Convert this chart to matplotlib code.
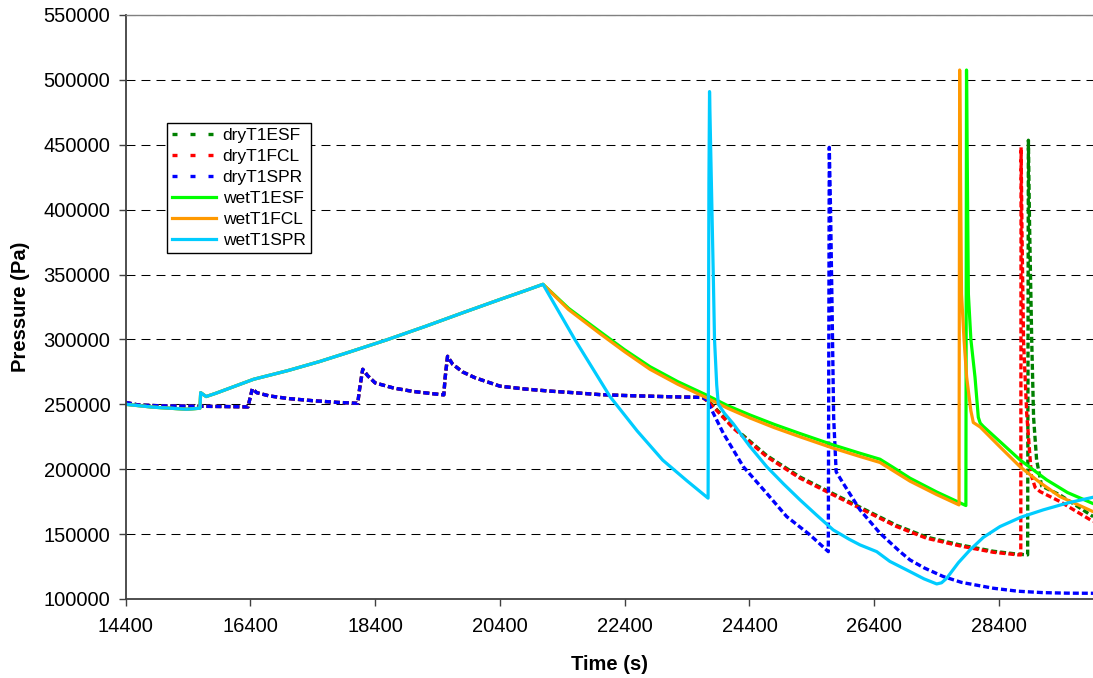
import matplotlib
matplotlib.use("Agg")
import matplotlib.pyplot as plt
from matplotlib.lines import Line2D

plt.rcParams['font.family'] = ['Liberation Sans', 'DejaVu Sans']

# ---------------- data ----------------
# shared early part of all dry series (dryT1SPR path until 23650 s)
t_dry_common = [14400, 14600, 15000, 15600, 16000, 16360, 16400, 16430, 16500, 16700,
                17000, 17400, 17800, 18120, 18150, 18200, 18280, 18400, 18700, 19000,
                19300, 19500, 19520, 19560, 19640, 19800, 20000, 20400, 20800, 21200,
                21600, 22000, 22400, 23000, 23650]
p_dry_common = [251500, 249500, 248800, 248500, 248300, 248000, 256000, 262000, 259000, 256500,
                254500, 252800, 251500, 250800, 262000, 277000, 272000, 266500, 262500, 260000,
                258300, 257300, 270000, 287000, 281000, 275000, 270500, 264000, 261800, 260200,
                258900, 257500, 256800, 256000, 255300]

# dryT1SPR tail
t_dry_spr = [23714, 23981, 24301, 24676, 24997, 25370, 25664, 25680, 25700, 25725,
             25750, 25790, 25905, 26172, 26493, 26813, 26974, 27200, 27508, 27800,
             28309, 28700, 29111, 29500, 29910]
p_dry_spr = [253400, 227700, 202000, 181500, 163500, 149400, 136500, 448000, 400000, 323000,
             240000, 198000, 189000, 168700, 150700, 136500, 130100, 124000, 117300, 112800,
             108300, 106000, 104900, 104500, 104400]

# dryT1FCL tail
t_dry_fcl = [23767, 24141, 24676, 25210, 25744, 26280, 26760, 27241, 27775, 28309,
             28710, 28750, 28755, 28770, 28794, 28845, 28920, 28980, 29058, 29378, 29910]
p_dry_fcl = [250800, 231600, 209700, 193100, 180200, 167300, 155800, 146800, 140900, 136000,
             134000, 134000, 448000, 380000, 299000, 243000, 195000, 186000, 182800, 175100, 159700]

# dryT1ESF tail
t_dry_esf = [23767, 24141, 24676, 25210, 25744, 26280, 26760, 27241, 27775, 28309,
             28710, 28860, 28872, 28890, 28925, 28955, 29004, 29085, 29378, 29910]
p_dry_esf = [251500, 232500, 210600, 194000, 181100, 168200, 156700, 147700, 141700, 136800,
             134500, 134000, 453500, 390000, 300000, 240000, 207000, 187000, 180200, 163500]

# shared early part of all wet series (until the peak at 21090 s)
t_wet_common = [14400, 14840, 15380, 15590, 15602, 15690, 15850, 16450, 17000, 17510,
                18000, 18580, 19200, 19800, 20400, 20800, 21090]
p_wet_common = [250000, 247800, 246200, 247000, 259000, 256000, 258600, 269300, 276000, 283000,
                290500, 299600, 310000, 320500, 330800, 337500, 342500]

# wetT1SPR tail
t_wet_spr = [21600, 22164, 22600, 23010, 23400, 23737, 23750, 23760, 23790, 23820,
             23840, 23875, 23901, 24000, 24141, 24400, 24676, 24950, 25210, 25480,
             25744, 26000, 26172, 26440, 26650, 26974, 27200, 27402, 27480, 27562,
             27750, 27936, 28150, 28416, 28750, 29111, 29500, 29910]
p_wet_spr = [300000, 256000, 229500, 207000, 191000, 177700, 420000, 491000, 420000, 350000,
             300000, 265000, 250000, 243000, 235000, 218000, 202000, 188500, 176400, 164500,
             153200, 146000, 141700, 136500, 129000, 121100, 115500, 111600, 112500, 116000,
             128000, 137800, 147500, 155800, 163000, 168700, 174000, 178400]

# wetT1ESF tail
t_wet_esf = [21500, 22004, 22400, 22806, 23250, 23714, 24050, 24408, 24800, 25210,
             25744, 26172, 26493, 26700, 26974, 27400, 27870, 27880, 27895, 27910,
             27950, 28016, 28069, 28100, 28149, 28400, 28737, 29165, 29500, 29910]
p_wet_esf = [324000, 306000, 292000, 279000, 267500, 257100, 249000, 241800, 234500, 227500,
             218700, 212300, 207700, 201500, 193100, 182500, 172000, 507600, 420000, 335000,
             300000, 271000, 240000, 235500, 233000, 222000, 207200, 191800, 182000, 173500]

# wetT1FCL tail
t_wet_fcl = [21500, 22004, 22400, 22806, 23250, 23714, 24050, 24408, 24800, 25210,
             25744, 26172, 26493, 26700, 26974, 27400, 27760, 27770, 27785, 27800,
             27840, 27882, 27950, 27989, 28100, 28400, 28737, 29050, 29378, 29910]
p_wet_fcl = [323000, 304500, 290500, 277000, 265500, 255000, 247000, 239500, 232000, 225000,
             216200, 209800, 205200, 199000, 190800, 180500, 172500, 507600, 420000, 335000,
             300000, 271000, 245000, 236000, 232500, 218000, 202000, 190000, 178900, 167300]

series_names = ['dryT1ESF', 'dryT1FCL', 'dryT1SPR', 'wetT1ESF', 'wetT1FCL', 'wetT1SPR']
series_colors = ['#008000', '#FF0000', '#0000FF', '#00FF00', '#FF9900', '#00CCFF']

x_ticks = [14400, 16400, 18400, 20400, 22400, 24400, 26400, 28400]
y_ticks = [100000, 150000, 200000, 250000, 300000, 350000, 400000, 450000, 500000, 550000]

# ---------------- build series ----------------
series = {
    'dryT1ESF': (t_dry_common + t_dry_esf, p_dry_common + p_dry_esf),
    'dryT1FCL': (t_dry_common + t_dry_fcl, p_dry_common + p_dry_fcl),
    'dryT1SPR': (t_dry_common + t_dry_spr, p_dry_common + p_dry_spr),
    'wetT1ESF': (t_wet_common + t_wet_esf, p_wet_common + p_wet_esf),
    'wetT1FCL': (t_wet_common + t_wet_fcl, p_wet_common + p_wet_fcl),
    'wetT1SPR': (t_wet_common + t_wet_spr, p_wet_common + p_wet_spr),
}

W, H = 1093, 678
fig = plt.figure(figsize=(W / 100, H / 100), dpi=100)
ax_left, ax_right, ax_top, ax_bottom = 125.7, 1093, 15, 599
ax = fig.add_axes([ax_left / W, (H - ax_bottom) / H, (ax_right - ax_left) / W, (ax_bottom - ax_top) / H])

handles = []
for name, color in zip(series_names, series_colors):
    t, p = series[name]
    if name.startswith('dry'):
        ln, = ax.plot(t, p, color=color, lw=2.4, solid_joinstyle='round')
        ln.set_dashes((1.8, 0.9))
        h = Line2D([], [], color=color, lw=2.4, dashes=(1.5, 3.9), label=name)
    else:
        ax.plot(t, p, color=color, lw=2.3, solid_joinstyle='round')
        h = Line2D([], [], color=color, lw=2.3, label=name)
    handles.append(h)

ax.set_xlim(14400, 14400 + (ax_right - ax_left) * 2000 / 124.75)
ax.set_ylim(100000, 550000)
ax.set_xticks(x_ticks)
ax.set_yticks(y_ticks)
ax.set_xticklabels([str(v) for v in x_ticks])
ax.set_yticklabels([str(v) for v in y_ticks])

ax.yaxis.grid(True, color='black', lw=0.75, linestyle=(0, (8.6, 5.8)))
ax.set_axisbelow(True)

ax.spines['right'].set_visible(False)
ax.spines['top'].set_color('#808080')
ax.spines['top'].set_linewidth(1.0)
for s in ['left', 'bottom']:
    ax.spines[s].set_color('#404040')
    ax.spines[s].set_linewidth(1.3)

ax.tick_params(axis='both', direction='out', length=5, width=1, color='#404040',
               labelsize=14.5, labelcolor='black')
ax.tick_params(axis='y', pad=6)
ax.tick_params(axis='x', pad=8)

ax.set_xlabel('Time (s)', fontsize=14.5, fontweight='bold', labelpad=14)
ax.set_ylabel('Pressure (Pa)', fontsize=14.5, fontweight='bold', labelpad=10)

leg = ax.legend(handles=handles, loc='upper left',
                bbox_to_anchor=((167 - ax_left) / (ax_right - ax_left), (ax_bottom - 123) / (ax_bottom - ax_top)),
                borderaxespad=0, fontsize=12.5, frameon=True, fancybox=False, framealpha=1,
                edgecolor='black', handlelength=2.5, handletextpad=0.4, labelspacing=0.33,
                borderpad=0.3)
leg.get_frame().set_linewidth(1.0)

fig.savefig('out.png', dpi=100)
